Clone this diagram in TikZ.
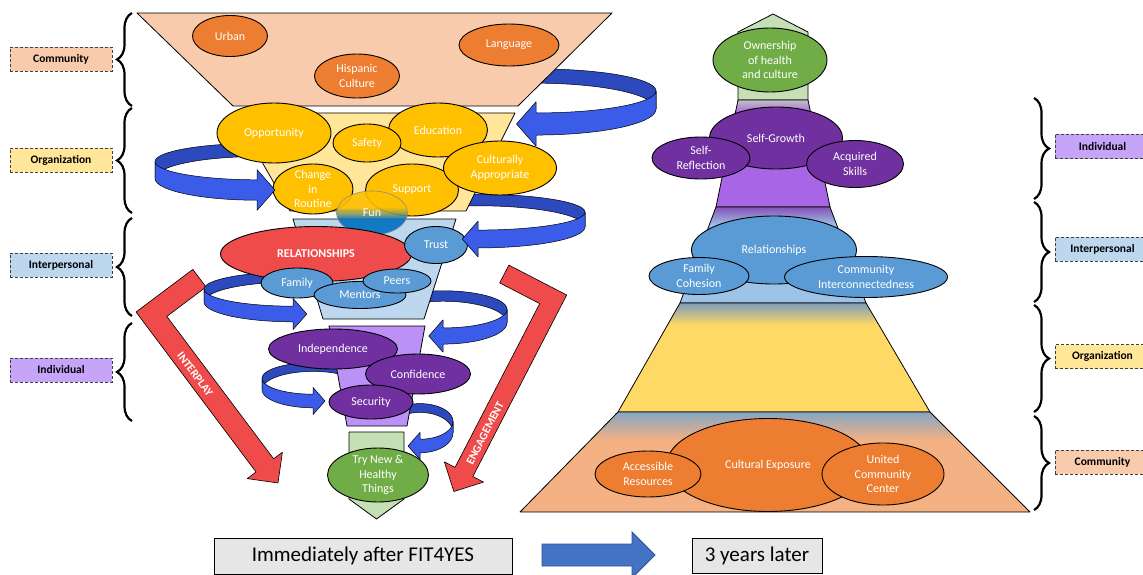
\documentclass[tikz,border=0pt]{standalone}
\usepackage{fontspec}
\setmainfont{Carlito}
\usetikzlibrary{shapes.geometric,decorations.pathreplacing}

\definecolor{commfill}{HTML}{F8CBAD}
\definecolor{orgfill}{HTML}{FFE699}
\definecolor{interfill}{HTML}{BDD7EE}
\definecolor{indfill}{HTML}{BB90F7}
\definecolor{indbox}{HTML}{C6A4F8}
\definecolor{ovorange}{HTML}{ED7D31}
\definecolor{ovyellow}{HTML}{FFC000}
\definecolor{ovblue}{HTML}{5B9BD5}
\definecolor{ovpurple}{HTML}{7030A0}
\definecolor{ovgreen}{HTML}{70AD47}
\definecolor{ovred}{HTML}{F04B4B}
\definecolor{funblue}{HTML}{0070C0}
\definecolor{swirldark}{HTML}{2C4ABE}
\definecolor{swirlblue}{HTML}{3A5CE8}
\definecolor{rcgreen}{HTML}{C5E0B4}
\definecolor{rcpurple}{HTML}{A866E6}
\definecolor{rcblue}{HTML}{9DC3E6}
\definecolor{rcyellow}{HTML}{FFD966}
\definecolor{rcorange}{HTML}{F4B183}
\definecolor{boxgray}{HTML}{E7E6E6}
\definecolor{arrowblue}{HTML}{4472C4}
\definecolor{arrowline}{HTML}{2F528F}

\pgfdeclareverticalshading{funshade}{100bp}{color(0bp)=(funblue); color(25bp)=(funblue);
  color(43bp)=(funblue); color(50bp)=(ovyellow!55!funblue); color(57bp)=(ovyellow);
  color(75bp)=(ovyellow); color(100bp)=(ovyellow)}

\tikzset{bubble/.style n args={4}{ellipse, draw=black, line width=0.9pt, fill=#1,
           minimum width=#2pt, minimum height=#3pt, inner sep=0pt,
           label={[btext]center:{#4}}},
         btext/.style={text=white, align=center, font=\fontsize{12}{14.5}\selectfont},
         tier/.style={draw=black, line width=0.8pt, line join=round},
         tierbox/.style={draw=black!75, dash pattern=on 3pt off 2pt, line width=0.8pt,
           inner sep=0pt, minimum height=24pt, font=\fontsize{11.5}{13}\selectfont\bfseries},
         bracket/.style={decorate, decoration={brace, amplitude=15pt}, line width=2.2pt},
         ribbonback/.style={fill=swirldark, draw=black, line width=0.5pt, line join=round},
         ribbonfront/.style={fill=swirlblue, draw=black, line width=0.5pt, line join=round},
         redarrow/.style={fill=ovred, draw=black, line width=0.6pt, line join=round},
         arrowtext/.style={text=white, font=\fontsize{11.5}{12}\selectfont\bfseries, inner sep=0pt},
         stagebox/.style={draw=black, line width=0.9pt, fill=boxgray, inner sep=0pt,
           font=\fontsize{21}{24}\selectfont}}

% back half of a looping ribbon: centre, radii, start, turn angle, size
\newcommand{\swirlback}[7]{%
  \filldraw[ribbonback]
    plot[domain=#5:#6,samples=30,variable=\t] ({#1+#3*cos(\t)},{#2+#4*sin(\t)-#7*(7+1.5*sin(\t))})
    -- plot[domain=#6:#5,samples=30,variable=\t] ({#1+#3*cos(\t)},{#2+#4*sin(\t)+#7*(7+1.5*sin(\t))})
    -- cycle;}
% front half with its head: ... , head angle, size, direction
\newcommand{\swirlfront}[8]{%
  \filldraw[ribbonfront]
    plot[domain=#5:#6,samples=30,variable=\t] ({#1+#3*cos(\t)},{#2+#4*sin(\t)-#7*(7+1.5*sin(\t))})
    -- ({#1+#3*cos(#6)},{#2+#4*sin(#6)-#7*17})
    -- ({#1+#3*cos(#6)+(#8)*#7*15},{#2+#4*sin(#6)})
    -- ({#1+#3*cos(#6)},{#2+#4*sin(#6)+#7*17})
    -- plot[domain=#6:#5,samples=30,variable=\t] ({#1+#3*cos(\t)},{#2+#4*sin(\t)+#7*(7+1.5*sin(\t))})
    -- cycle;}

\begin{document}
\begin{tikzpicture}[x=1pt,y=-1pt]
    \useasboundingbox (0,0) rectangle (1143,575);

    % red bent arrows
    \begin{scope}[shift={(136,312)},x={(0.6pt,-0.8pt)},y={(0.8pt,0.6pt)}]
        \filldraw[redarrow] (0,71) -- (22,71) -- (22,22) -- (200,22) -- (200,33) -- (222,11)
            -- (200,-11) -- (200,0) -- (0,0) -- cycle;
        \node[arrowtext,rotate=-53] (interplay) at (85,10) {INTERPLAY};
    \end{scope}
    \begin{scope}[shift={(566.7,295)},x={(-0.46pt,-0.89pt)},y={(-0.89pt,0.46pt)}]
        \filldraw[redarrow] (0,65) -- (20,65) -- (20,20) -- (204,20) -- (204,32) -- (226,10)
            -- (204,-12) -- (204,0) -- (0,0) -- cycle;
        \node[arrowtext,rotate=62.7] (engage) at (160,9) {ENGAGEMENT};
    \end{scope}

    % ribbons, back halves
    \swirlback{536}{100}{120}{24}{-120}{0}{1.3}
    \swirlback{257}{170}{102}{20}{-60}{-180}{1.2}
    \swirlback{478}{219.5}{107}{19.5}{-120}{0}{1.05}
    \swirlback{293}{295.5}{89}{18.5}{-60}{-180}{0.92}
    \swirlback{443}{316}{64}{20}{-120}{0}{0.95}
    \swirlback{313}{384}{51}{17}{-45}{-180}{0.8}
    \swirlback{420}{427}{33}{19}{-120}{0}{0.8}

    % funnel
    \filldraw[tier,fill=commfill] (137,13) -- (612,13) -- (518,106) -- (233,106) -- cycle;
    \filldraw[tier,fill=orgfill] (234,113) -- (515,113) -- (466,211) -- (290,211) -- cycle;
    \filldraw[tier,fill=interfill] (293,219) -- (456,219) -- (424,319) -- (323,319) -- cycle;
    \filldraw[tier,fill=indfill] (329,326) -- (425,326) -- (407,426) -- (347,426) -- cycle;
    \filldraw[tier,fill=rcgreen] (349,432) -- (404,432) -- (404,499) -- (376.5,519) -- (349,499) -- cycle;

    \node[bubble={ovorange}{75}{41}{Urban}] (urban) at (230,36) {};
    \node[bubble={ovorange}{85}{44}{Hispanic\\Culture}] (hispanic) at (357,76) {};
    \node[bubble={ovorange}{100}{42}{Language}] (language) at (509,45) {};

    \node[bubble={ovyellow}{114}{60}{Opportunity}] (opportunity) at (274,133) {};
    \node[bubble={ovyellow}{99}{54}{Education}] (education) at (438,130) {};
    \node[bubble={ovyellow}{68}{38}{Safety}] (safety) at (367,143) {};
    \node[bubble={ovyellow}{80}{50}{Change\\in\\Routine}] (routine) at (313,189) {};
    \node[bubble={ovyellow}{93}{52}{Support}] (support) at (412,190) {};
    \node[bubble={ovyellow}{113}{54}{Culturally\\Appropriate}] (cultural) at (500,168) {};
    \node[ellipse, draw=black!45, line width=0.6pt, shading=funshade,
        fill opacity=0.9, minimum width=71pt, minimum height=44pt, inner sep=0pt,
        label={[btext]center:Fun}] (fun) at (372,213) {};

    \node[bubble={ovred}{191}{55}{\fontsize{12}{14}\selectfont\bfseries RELATIONSHIPS}] (relations) at (316,254) {};
    \node[bubble={ovblue}{63}{37}{Trust}] (trust) at (436,245) {};
    \node[bubble={ovblue}{72}{30}{Family}] (family) at (297,283) {};
    \node[bubble={ovblue}{92}{27}{Mentors}] (mentors) at (360,295) {};
    \node[bubble={ovblue}{68}{24}{Peers}] (peers) at (397,281) {};

    \node[bubble={ovpurple}{129}{40}{Independence}] (independence) at (333,349) {};
    \node[bubble={ovpurple}{105}{40}{Confidence}] (confidence) at (418,374) {};
    \node[bubble={ovpurple}{84}{34}{Security}] (security) at (371,402) {};
    \node[bubble={ovgreen}{101}{54}{Try New \&\\Healthy\\Things}] (trynew) at (378,475) {};

    % ribbons, front halves
    \swirlfront{536}{100}{120}{24}{0}{90}{1.3}{-1}
    \swirlfront{257}{170}{102}{20}{180}{90}{1.2}{1}
    \swirlfront{478}{219.5}{107}{19.5}{0}{90}{1.05}{-1}
    \swirlfront{293}{295.5}{89}{18.5}{180}{90}{0.92}{1}
    \swirlfront{443}{316}{64}{20}{0}{90}{0.95}{-1}
    \swirlfront{313}{384}{51}{17}{180}{90}{0.8}{1}
    \swirlfront{420}{427}{33}{19}{0}{90}{0.8}{-1}

    % pyramid three years later
    \filldraw[tier,fill=rcgreen] (773,14) -- (808,32) -- (808,100) -- (738,100) -- (738,32) -- cycle;
    \fill[rcpurple] (738,100) -- (808,100) -- (830,207) -- (716,207) -- cycle;
    \shade[top color=black!25, bottom color=rcpurple] (738,100) -- (808,100) -- (810.7,113) -- (735.3,113) -- cycle;
    \draw[tier] (738,100) -- (808,100) -- (830,207) -- (716,207) -- cycle;
    \fill[rcblue] (716,207) -- (830,207) -- (866,303) -- (680,303) -- cycle;
    \shade[top color=rcpurple!80!black, bottom color=rcblue] (716,207) -- (830,207) -- (836.8,225) -- (709.3,225) -- cycle;
    \draw[tier] (716,207) -- (830,207) -- (866,303) -- (680,303) -- cycle;
    \fill[rcyellow] (680,303) -- (866,303) -- (930,412) -- (618,412) -- cycle;
    \shade[top color=rcblue!80!black, bottom color=rcyellow] (680,303) -- (866,303) -- (878.9,325) -- (667.5,325) -- cycle;
    \draw[tier] (680,303) -- (866,303) -- (930,412) -- (618,412) -- cycle;
    \fill[rcorange] (618,412) -- (930,412) -- (1030,512) -- (520,512) -- cycle;
    \shade[top color=rcblue!85!black, middle color=rcyellow, bottom color=rcorange] (618,412) -- (930,412) -- (958,440) -- (590.6,440) -- cycle;
    \draw[tier] (618,412) -- (930,412) -- (1030,512) -- (520,512) -- cycle;

    \node[bubble={ovgreen}{114}{64}{Ownership\\of health\\and culture}] (ownership) at (770,60) {};
    \node[bubble={ovpurple}{133}{62}{Self-Growth}] (growth) at (776,138) {};
    \node[bubble={ovpurple}{98}{42}{Self-\\Reflection}] (reflection) at (701,158) {};
    \node[bubble={ovpurple}{97}{47}{Acquired\\Skills}] (skills) at (855,164) {};
    \node[bubble={ovblue}{165}{68}{Relationships}] (relships) at (774,250) {};
    \node[bubble={ovblue}{100}{37}{Family\\Cohesion}] (cohesion) at (699,276) {};
    \node[bubble={ovblue}{163}{41}{Community\\Interconnectedness}] (interconn) at (866,277) {};
    \node[bubble={ovorange}{203}{93}{Cultural Exposure}] (exposure) at (768,465) {};
    \node[bubble={ovorange}{106}{46}{Accessible\\Resources}] (resources) at (648,474) {};
    \node[bubble={ovorange}{122}{62}{United\\Community\\Center}] (center) at (883,474) {};

    % levels, left
    \draw[bracket] (132,106) -- (132,13);
    \draw[bracket] (132,213) -- (132,108);
    \draw[bracket] (132,316) -- (132,218);
    \draw[bracket] (132,421) -- (132,323);
    \node[tierbox,fill=commfill,minimum width=102pt] (lcomm) at (61,59.5) {Community};
    \node[tierbox,fill=orgfill,minimum width=102pt] (lorg) at (61,160) {Organization};
    \node[tierbox,fill=interfill,minimum width=102pt] (linter) at (61,265) {Interpersonal};
    \node[tierbox,fill=indbox,minimum width=102pt] (lind) at (61,370) {Individual};

    % levels, right
    \draw[bracket] (1034,98) -- (1034,199);
    \draw[bracket] (1034,202) -- (1034,302);
    \draw[bracket] (1034,305) -- (1034,412);
    \draw[bracket] (1034,416) -- (1034,510);
    \node[tierbox,fill=indbox,minimum width=95pt] (rind) at (1102.5,146.5) {Individual};
    \node[tierbox,fill=interfill,minimum width=95pt] (rinter) at (1102.5,249) {Interpersonal};
    \node[tierbox,fill=orgfill,minimum width=95pt] (rorg) at (1102.5,356.5) {Organization};
    \node[tierbox,fill=commfill,minimum width=95pt] (rcomm) at (1102.5,462) {Community};

    % time line
    \node[stagebox,minimum width=298pt,minimum height=36pt] (now) at (363,556) {Immediately after FIT4YES};
    \node[stagebox,minimum width=130pt,minimum height=35pt] (later) at (757,555.5) {3 years later};
    \filldraw[fill=arrowblue, draw=arrowline, line width=0.8pt] (542,544) -- (632,544) -- (632,532)
        -- (655,555) -- (632,578) -- (632,566) -- (542,566) -- cycle;
\end{tikzpicture}
\end{document}
